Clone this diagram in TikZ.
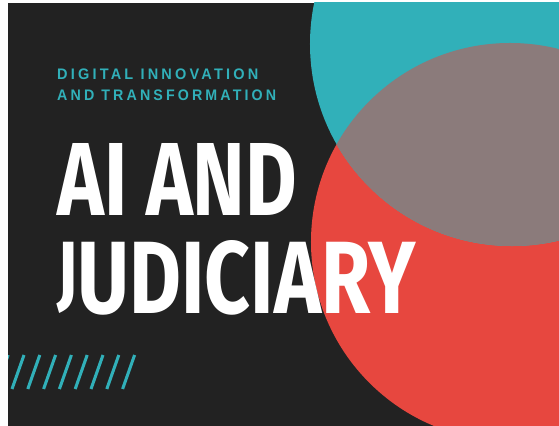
\documentclass[tikz,border=0pt]{standalone}
\usepackage{fontspec}
\usepackage{graphicx}
\newfontfamily\headfont{Fira Sans}
\newfontfamily\kickerfont[LetterSpace=22]{Liberation Sans}
\newlength{\jdrop}
\newsavebox{\jglyph}
\newcommand{\flatJ}{\sbox{\jglyph}{\resizebox*{!}{\fontcharht\font`U}{J}}\setlength{\jdrop}{\dp\jglyph}\raisebox{\jdrop}{\usebox{\jglyph}}}% J on the baseline

\definecolor{boardbg}{RGB}{34,34,34}
\definecolor{tealc}{RGB}{49,176,185}
\definecolor{redc}{RGB}{231,71,63}
\definecolor{greyc}{RGB}{139,123,123}

\begin{document}
\begin{tikzpicture}[x=0.03cm,y=-0.03cm]
\useasboundingbox (0,0) rectangle (559,426);
\fill[color=white] (0,0) rectangle (559,426);%page
\fill[color=boardbg] (8,3) rectangle (559,426);%board

\begin{scope}
\clip (8,3) rectangle (559,426);
\fill[color=redc] (510,242) circle[radius=5.97cm];%lower circle
\fill[color=tealc] (512,44) circle[radius=6.06cm];%upper circle
\begin{scope}
\clip (510,242) circle[radius=5.97cm];
\fill[color=greyc] (512,44) circle[radius=6.06cm];%overlap
\end{scope}
\foreach \i in {-1,...,7}
  \draw[color=tealc,line width=2.6pt] ({12+15.8*\i},389) -- ({24+15.8*\i},355);%hatch
\end{scope}

\node[anchor=base west,inner sep=0pt,color=tealc] (kicker1) at (57,80) {\resizebox{6.03cm}{0.32cm}{\kickerfont\bfseries DIGITAL INNOVATION}};
\node[anchor=base west,inner sep=0pt,color=tealc] (kicker2) at (57,101) {\resizebox{6.57cm}{0.32cm}{\kickerfont\bfseries AND TRANSFORMATION}};

\node[anchor=base west,inner sep=0pt,color=white] (title1) at (57,215) {\resizebox{7.2cm}{2.16cm}{\headfont\bfseries AI AND}};
\node[anchor=base west,inner sep=0pt,color=white] (title2) at (57,313) {\resizebox{10.74cm}{2.19cm}{\headfont\bfseries\flatJ UDICIARY}};

\end{tikzpicture}
\end{document}
